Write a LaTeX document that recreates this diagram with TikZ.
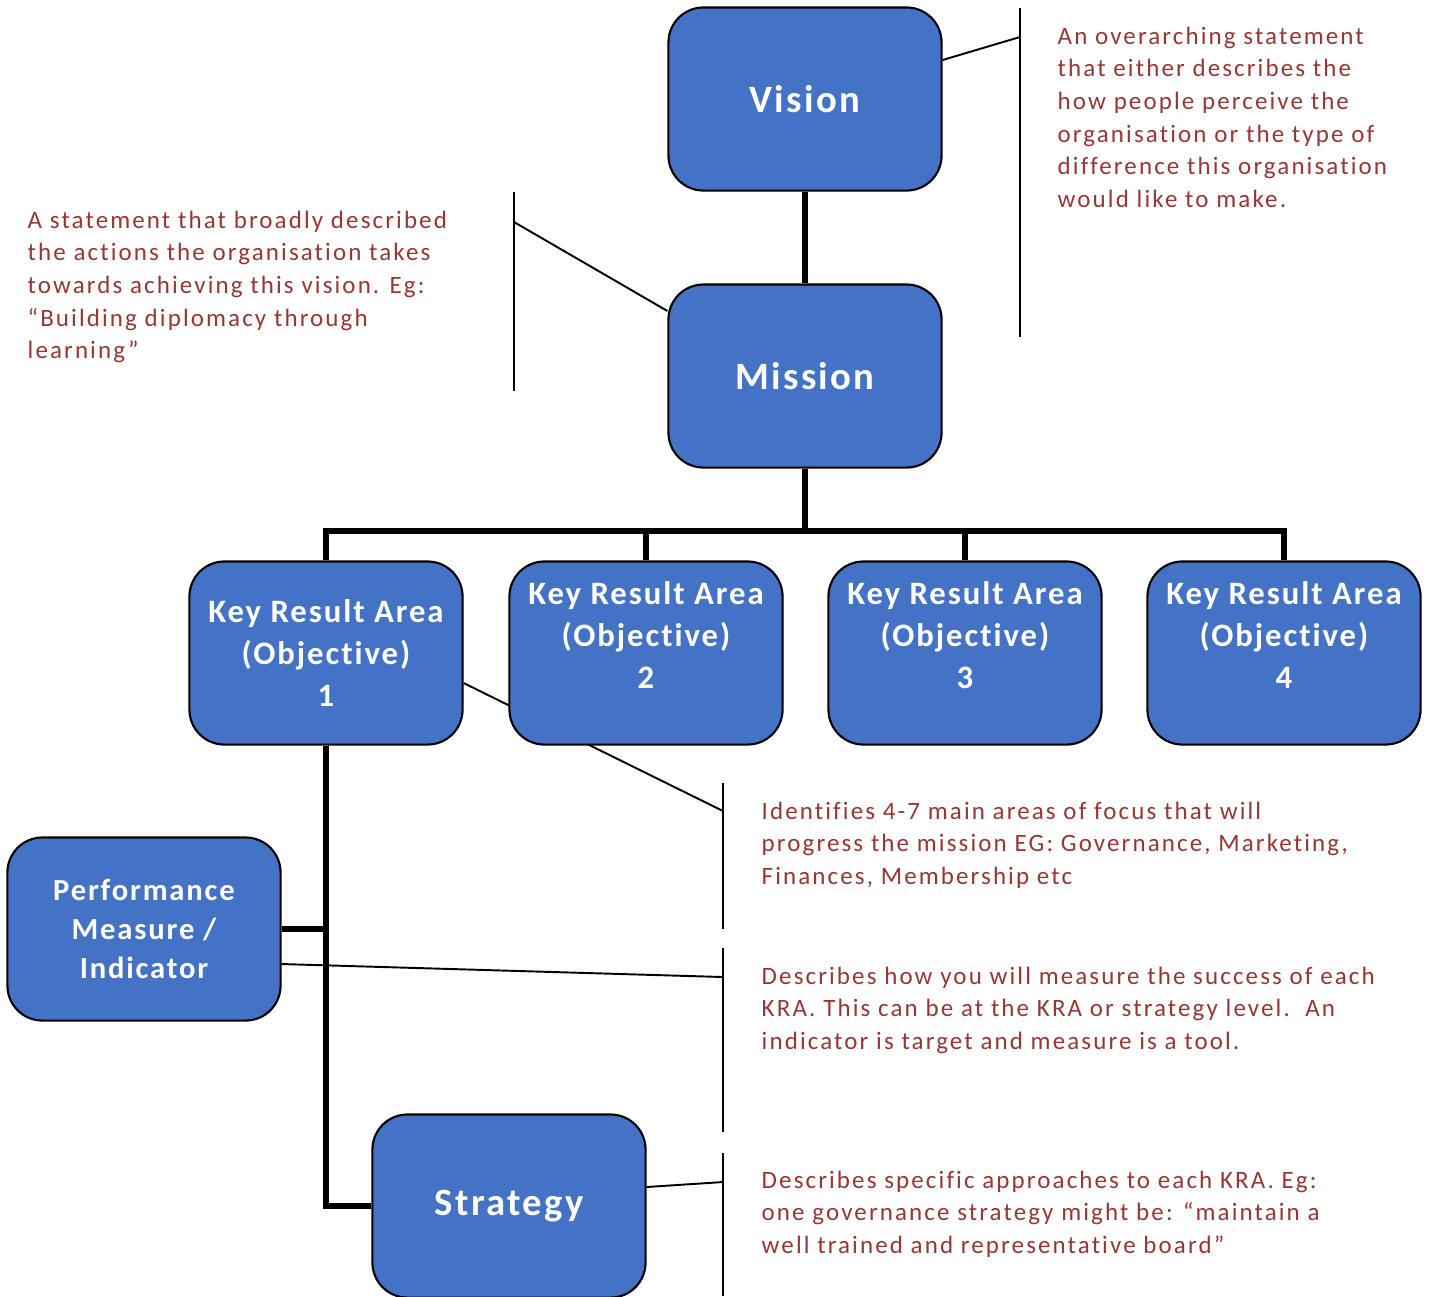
\documentclass[tikz,border=0pt]{standalone}
\usepackage{fontspec}
\setmainfont{Carlito}[LetterSpace=6, Ligatures=NoCommon]
\newfontfamily\notefont{Carlito}[LetterSpace=8.5, Ligatures=NoCommon]
\usetikzlibrary{backgrounds}
\definecolor{boxblue}{HTML}{4472C4}
\definecolor{notered}{HTML}{953735}
\begin{document}
\begin{tikzpicture}[x=0.01cm,y=-0.01cm,
  blockbox/.style={draw=black, line width=0.6pt, fill=boxblue, rounded corners=0.35cm,
    minimum width=2.73cm, minimum height=1.83cm, text=white, align=center, inner sep=0pt},
  bigtext/.style={font=\fontsize{11}{13}\selectfont\bfseries},
  kratext/.style={font=\fontsize{9.3}{11.9}\selectfont\bfseries},
  perftext/.style={font=\fontsize{8.7}{11.1}\selectfont\bfseries},
  note/.style={anchor=north west, text=notered, align=left, inner sep=0pt,
    font=\notefont\fontsize{7.1}{9.3}\selectfont},
  trunk/.style={line width=1.6pt},
  pointer/.style={line width=0.55pt}]
\useasboundingbox (0,0) rectangle (1431,1296);
% boxes
\node[blockbox, bigtext] (vision) at (805,99) {Vision};
\node[blockbox, bigtext] (mission) at (805,376) {Mission};
\node[blockbox, kratext] (kra1) at (326,653) {Key Result Area\\(Objective)\\1};
\node[blockbox, kratext] (kra2) at (646,653) {Key Result Area\\(Objective)\\2\rule[-0.36cm]{0pt}{0.36cm}};
\node[blockbox, kratext] (kra3) at (965,653) {Key Result Area\\(Objective)\\3\rule[-0.36cm]{0pt}{0.36cm}};
\node[blockbox, kratext] (kra4) at (1284,653) {Key Result Area\\(Objective)\\4\rule[-0.36cm]{0pt}{0.36cm}};
\node[blockbox, perftext] (perf) at (144,929) {Performance\\Measure /\\Indicator};
\node[blockbox, bigtext] (strategy) at (509,1206) {Strategy};
% tree connectors
\coordinate (bus) at (805,531);
\draw[trunk] (vision) -- (mission);
\draw[trunk] (mission) -- (bus);
\foreach \k in {kra1,kra2,kra3,kra4}
  \draw[trunk] (\k.north) |- (bus);
\draw[trunk] (kra1.south) |- (strategy.west);
\draw[trunk] (perf.east) -- (perf.east -| kra1.south);
% callout brackets
\coordinate (vnote) at (1020,37);
\coordinate (mnote) at (514,222);
\coordinate (knote) at (723,811);
\coordinate (pnote) at (723,977);
\coordinate (snote) at (723,1182);
\draw[pointer] (1020,8) -- (1020,337);
\draw[pointer] (514,192) -- (514,391);
\draw[pointer] (723,783) -- (723,929);
\draw[pointer] (723,948) -- (723,1132);
\draw[pointer] (723,1153) -- (723,1296);
\draw[pointer] ([yshift=0.39cm]vision.east) -- (vnote);
\draw[pointer] ([yshift=0.65cm]mission.west) -- (mnote);
\begin{pgfonlayer}{background}
\draw[pointer] ([yshift=-0.30cm]kra1.east) -- (knote);
\end{pgfonlayer}
\draw[pointer] ([yshift=-0.35cm]perf.east) -- (pnote);
\draw[pointer] ([yshift=0.19cm]strategy.east) -- (snote);
% notes
\node[note] (visiontext) at (1057,26) {An overarching statement\\that either describes the\\how people perceive the\\organisation or the type of\\difference this organisation\\would like to make.};
\node[note] (missiontext) at (27,210) {A statement that broadly described\\the actions the organisation takes\\towards achieving this vision. Eg:\\“Building diplomacy through\\learning”};
\node[note] (kratext) at (761,801) {Identifies 4-7 main areas of focus that will\\progress the mission EG: Governance, Marketing,\\Finances, Membership etc};
\node[note] (perfnote) at (761,966) {Describes how you will measure the success of each\\KRA. This can be at the KRA or strategy level.\ \ An\\indicator is target and measure is a tool.};
\node[note] (strategytext) at (761,1170) {Describes specific approaches to each KRA. Eg:\\one governance strategy might be: “maintain a\\well trained and representative board”};
\end{tikzpicture}
\end{document}
